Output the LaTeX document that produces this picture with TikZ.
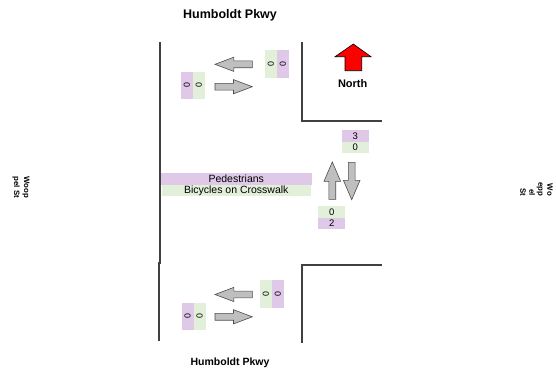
\documentclass[tikz,border=0pt]{standalone}
\usepackage{graphicx}
\usepackage{fontspec}
\setmainfont{Liberation Sans}
\definecolor{pcol}{RGB}{224,200,233}
\definecolor{gcol}{RGB}{226,239,217}
\definecolor{roadcol}{RGB}{64,64,64}
\begin{document}
\begin{tikzpicture}[x=1pt,y=-1pt,
  road/.style={draw=roadcol,line width=1.3pt},
  garrowstyle/.style={fill=black!25,draw=black!70,line width=0.6pt,line join=miter},
  pcell/.style={fill=pcol,inner sep=0pt,outer sep=0pt,minimum width=11.9pt,minimum height=27.6pt,anchor=north west,font=\fontsize{8.8}{9}\selectfont},
  gcell/.style={pcell,fill=gcol},
  ncellp/.style={fill=pcol,inner sep=0pt,outer sep=0pt,minimum width=27pt,minimum height=11.6pt,anchor=north west,font=\fontsize{9.5}{10}\selectfont},
  ncellg/.style={ncellp,fill=gcol},
  bigcell/.style={inner sep=0pt,outer sep=0pt,minimum height=11.6pt,anchor=north west,font=\fontsize{10.5}{11}\selectfont},
  title/.style={font=\bfseries\fontsize{12.5}{14}\selectfont},
  street/.style={font=\bfseries\fontsize{7.8}{10}\selectfont,rotate=-90,inner sep=0pt},
  pics/garr/.style={code={\draw[garrowstyle] (0,-3.4) -- (18.5,-3.4) -- (18.5,-7.1) -- (37.3,0) -- (18.5,7.1) -- (18.5,3.4) -- (0,3.4) -- cycle;}},
  pics/garrv/.style={code={\draw[garrowstyle] (0,-3.4) -- (18,-3.4) -- (18,-8.3) -- (37.4,0) -- (18,8.3) -- (18,3.4) -- (0,3.4) -- cycle;}}
]
\useasboundingbox (0,0) rectangle (556,373);

% titles and street names
\node[title] (ttop) at (230,15) {Humboldt Pkwy};
\node[font=\bfseries\fontsize{10.5}{12}\selectfont] (tbot) at (230,363) {Humboldt Pkwy};
\node[street,align=left] (wleft) at (21,187.5) {Woop\\pel St};
\node[street,align=right,font=\bfseries\fontsize{7.8}{9}\selectfont] (wright) at (536.5,189) {Wo\\epp\\el\\St};

% roads
\coordinate (l1t) at (160,42);
\coordinate (l1b) at (160,264);
\coordinate (l2t) at (159,262);
\coordinate (l2b) at (159,341);
\draw[road] (l1t) -- (l1b);
\draw[road] (l2t) -- (l2b);
\coordinate (ur1) at (302,42);
\coordinate (ur2) at (302,121);
\coordinate (ur3) at (382,121);
\draw[road] (ur1) -- (ur2) -- (ur3);
\coordinate (lr1) at (382,265);
\coordinate (lr2) at (302,265);
\coordinate (lr3) at (302,343);
\draw[road] (lr1) -- (lr2) -- (lr3);

% north arrow
\draw[fill=red,draw=black,line width=0.6pt,line join=miter]
  (353.3,44) -- (371,56.7) -- (361.7,56.7) -- (361.7,70.7) -- (345,70.7) -- (345,56.7) -- (335,56.7) -- cycle;
\node[font=\bfseries\fontsize{11}{12}\selectfont] (north) at (352.7,84) {North};

% top pairs
\node[pcell] (tla) at (181,71.7) {\rotatebox{90}{0}};
\node[gcell] (tlb) at (192.9,71.7) {\rotatebox{90}{0}};
\node[gcell] (tra) at (265,50) {\rotatebox{90}{0}};
\node[pcell] (trb) at (276.9,50) {\rotatebox{90}{0}};
\pic[rotate=180] at (252.3,64.3) {garr};
\pic at (215,86.7) {garr};

% bottom pairs
\node[pcell] (bla) at (181.7,302.7) {\rotatebox{90}{0}};
\node[gcell] (blb) at (193.6,302.7) {\rotatebox{90}{0}};
\node[gcell] (bra) at (260,280) {\rotatebox{90}{0}};
\node[pcell] (brb) at (271.9,280) {\rotatebox{90}{0}};
\pic[rotate=180] at (252.3,294.5) {garr};
\pic at (215,316.8) {garr};

% crosswalk counts
\node[ncellp] (n3) at (341.8,130) {3};
\node[ncellg] (n0a) at (341.8,141.6) {0};
\node[ncellg] (n0b) at (318.3,206) {0};
\node[ncellp] (n2) at (318.3,217.6) {2};
\pic[rotate=90] at (332.3,199.3) {garrv};
\pic[rotate=-90] at (351.7,162.3) {garrv};

% pedestrians / bicycles
\node[bigcell,fill=pcol,minimum width=150.5pt] (ped) at (161,173) {Pedestrians};
\node[bigcell,fill=gcol,minimum width=149.5pt] (bic) at (161.5,184.6) {Bicycles on Crosswalk};
\end{tikzpicture}
\end{document}
